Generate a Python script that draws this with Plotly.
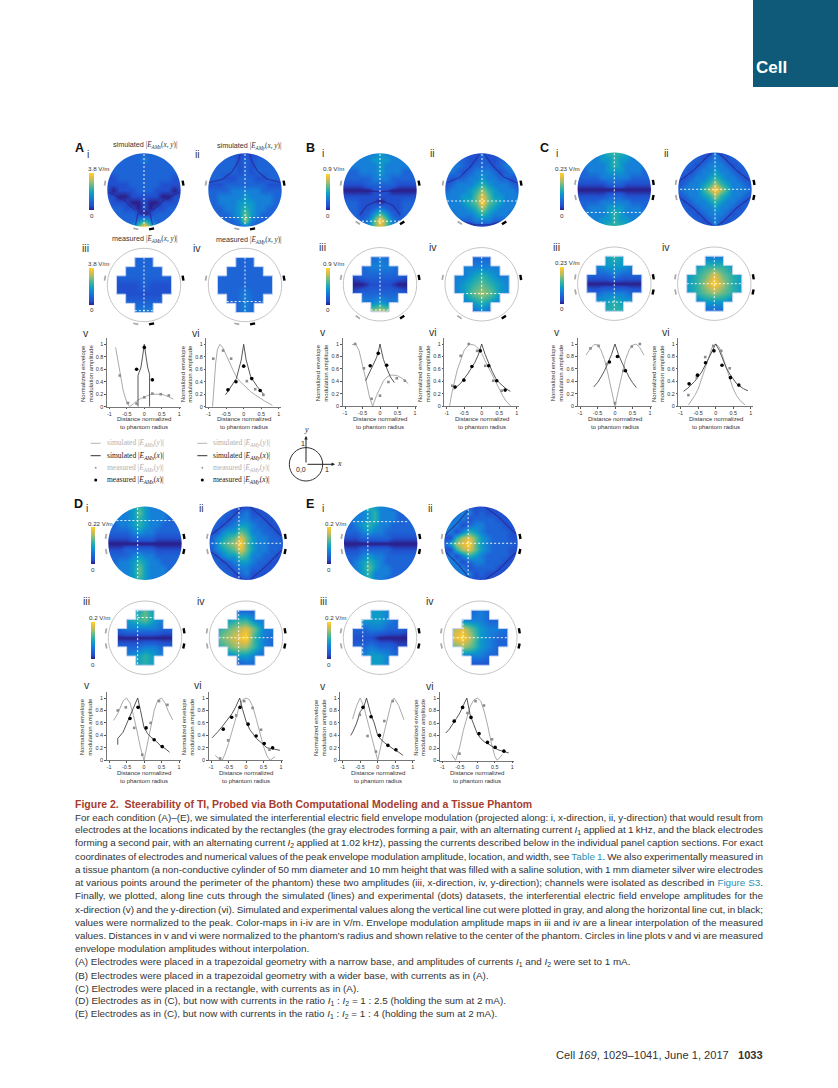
import plotly.graph_objects as go

W, H = 838, 1088

# ---------- colour scale (0..9 level steps) ----------
LEVEL_COLORS = ["#2c1f8a", "#2150cf", "#1d64d6", "#167fd8", "#0d9bc8", "#2bb0a8",
                "#62ba8c", "#a8bf68", "#e6bc42", "#fcd62a"]

# ---------- simulated maps: rows y=+1..-1, columns x=-1..+1 (levels 0..9) ----------
A_i = [[2,2,2,2,2,2,2,2,2,2,2,2,2],[2,2,2,2,2,2,3,2,2,2,2,2,2],[2,2,2,2,2,2,2,2,2,2,2,2,2],
       [1,2,2,2,2,2,2,2,2,2,2,2,1],[1,1,2,2,2,2,2,2,2,2,2,1,1],[1,1,1,1,2,2,2,2,2,1,1,1,1],
       [1,0,1,1,1,2,2,2,1,1,1,0,1],[1,1,0,0,1,1,1,1,1,0,0,1,1],[2,1,1,1,0,0,1,0,0,1,1,1,2],
       [2,2,2,1,1,0,1,0,1,1,2,2,2],[2,2,2,2,2,1,0,1,2,2,2,2,2],[2,2,2,2,2,3,5,3,2,2,2,2,2],
       [2,2,2,2,3,6,9,6,3,2,2,2,2]]
A_ii = [[1,1,1,1,1,1,1,1,1,1,1,1,1],[2,2,2,2,2,1,2,1,2,2,2,2,2],[2,2,2,2,2,1,2,1,2,2,2,2,2],
        [2,2,2,2,2,1,2,1,2,2,2,2,2],[2,2,2,1,1,2,2,2,1,1,2,2,2],[1,1,1,2,2,2,2,2,2,2,1,1,1],
        [2,2,2,2,3,3,3,3,3,2,2,2,2],[2,2,3,3,3,3,4,3,3,3,3,2,2],[2,2,3,3,3,4,4,4,3,3,3,2,2],
        [2,2,2,3,3,4,5,4,3,3,2,2,2],[2,2,2,2,3,4,6,4,3,2,2,2,2],[2,2,2,2,2,3,7,3,2,2,2,2,2],
        [1,1,1,1,2,2,3,2,2,1,1,1,1]]
B_i = [[3,3,3,3,3,3,4,3,3,3,3,3,3],[3,3,3,3,3,4,4,4,3,3,3,3,3],[3,3,3,3,3,3,4,3,3,3,3,3,3],
       [2,2,2,3,3,3,4,3,3,3,2,2,2],[2,2,2,2,2,3,3,3,2,2,2,2,2],[1,1,1,1,2,2,2,2,2,1,1,1,1],
       [0,0,0,0,0,1,1,1,0,0,0,0,0],[1,1,1,1,1,1,1,1,1,1,1,1,1],[2,2,2,1,1,1,0,1,1,1,2,2,2],
       [2,2,2,1,1,2,3,2,1,1,2,2,2],[2,2,2,1,2,4,6,4,2,1,2,2,2],[2,2,2,2,3,6,9,6,3,2,2,2,2],
       [2,2,2,2,3,6,8,6,3,2,2,2,2]]
B_ii = [[1,1,1,1,1,1,2,1,1,1,1,1,1],[2,2,2,2,1,1,2,1,1,2,2,2,2],[3,3,3,2,1,2,2,2,1,2,3,3,3],
        [3,3,2,1,2,3,3,3,2,1,2,3,3],[2,1,2,2,3,3,4,3,3,2,2,1,2],[1,2,3,3,3,4,5,4,3,3,3,2,1],
        [2,3,3,3,4,5,7,5,4,3,3,3,2],[3,3,3,4,4,6,8,6,4,4,3,3,3],[3,3,3,4,5,6,9,6,5,4,3,3,3],
        [3,3,3,3,4,5,7,5,4,3,3,3,3],[2,2,3,3,3,4,5,4,3,3,3,2,2],[2,2,2,2,2,3,3,3,2,2,2,2,2],
        [1,1,1,1,0,1,1,1,0,1,1,1,1]]
C_i = [[3,3,3,3,4,5,5,5,4,3,3,3,3],[3,3,3,3,4,4,5,4,4,3,3,3,3],[2,3,3,3,3,4,5,4,3,3,3,3,2],
       [2,2,3,3,3,4,4,4,3,3,3,2,2],[2,2,2,2,3,3,3,3,3,2,2,2,2],[1,1,1,1,1,2,2,2,1,1,1,1,1],
       [0,0,0,0,0,0,0,0,0,0,0,0,0],[1,1,1,1,1,2,2,2,1,1,1,1,1],[2,2,2,2,3,3,3,3,3,2,2,2,2],
       [2,2,3,3,3,4,4,4,3,3,3,2,2],[2,3,3,3,3,4,5,4,3,3,3,3,2],[3,3,3,3,4,4,5,4,4,3,3,3,3],
       [3,3,3,3,4,5,5,5,4,3,3,3,3]]
C_ii = [[2,2,2,2,1,1,3,1,1,2,2,2,2],[2,2,2,2,1,2,3,2,1,2,2,2,2],[2,2,2,1,2,3,3,3,2,1,2,2,2],
        [2,2,1,2,3,3,4,3,3,2,1,2,2],[2,1,2,3,3,4,5,4,3,3,2,1,2],[1,2,3,3,4,5,7,5,4,3,3,2,1],
        [2,3,3,3,5,7,9,7,5,3,3,3,2],[1,2,3,3,4,5,7,5,4,3,3,2,1],[2,1,2,3,3,4,5,4,3,3,2,1,2],
        [2,2,1,2,3,3,4,3,3,2,1,2,2],[2,2,2,1,2,3,3,3,2,1,2,2,2],[2,2,2,2,1,2,3,2,1,2,2,2,2],
        [2,2,2,2,1,1,3,1,1,2,2,2,2]]
D_i = [[3,3,3,4,4,5,4,3,3,2,2,2,2],[3,3,3,3,4,6,4,3,3,3,2,2,2],[2,3,3,3,4,5,4,3,3,3,2,2,2],
       [2,2,3,3,4,5,4,3,3,2,2,2,2],[2,2,2,2,3,4,3,3,2,2,2,2,2],[1,1,1,1,2,2,2,2,1,1,1,1,1],
       [0,0,0,0,0,0,0,0,0,0,0,0,0],[1,1,1,2,2,2,2,2,1,1,1,1,1],[2,2,2,2,3,4,3,3,2,2,2,2,2],
       [2,2,3,3,4,5,4,3,3,2,2,2,2],[2,3,3,3,4,6,4,3,3,3,2,2,2],[3,3,3,3,4,6,4,3,3,3,2,2,2],
       [3,3,3,4,4,5,4,3,3,2,2,2,2]]
D_ii = [[2,2,2,2,1,1,1,1,1,2,2,2,2],[2,2,2,2,1,2,3,1,1,1,2,2,2],[2,2,2,1,2,3,3,2,2,1,1,2,2],
        [2,2,1,2,3,4,4,3,2,2,1,1,2],[2,1,3,4,4,6,5,3,3,2,2,1,1],[1,3,4,5,6,8,6,4,3,3,2,2,1],
        [2,3,5,6,7,9,6,4,3,3,2,2,2],[1,3,4,5,6,8,6,4,3,3,2,2,1],[2,1,3,4,4,6,5,3,3,2,2,1,1],
        [2,2,1,2,3,4,4,3,2,2,1,1,2],[2,2,2,1,2,3,3,2,2,1,1,2,2],[2,2,2,2,1,2,3,1,1,1,2,2,2],
        [2,2,2,2,1,1,1,1,1,2,2,2,2]]
E_i = [[2,2,3,4,5,4,3,3,2,2,2,2,2],[3,3,3,3,4,5,3,3,3,2,2,2,2],[3,3,3,3,4,5,3,3,3,2,2,2,2],
       [2,2,3,4,5,4,3,3,2,2,2,2,2],[2,2,2,3,4,3,3,2,2,2,2,2,2],[1,1,1,2,2,2,2,2,1,1,1,1,1],
       [0,0,0,0,0,0,0,0,0,0,0,0,0],[1,1,1,2,2,2,2,2,1,1,1,1,1],[2,2,2,3,4,3,3,2,2,2,2,2,2],
       [2,2,3,4,5,4,3,2,2,2,2,2,2],[2,3,3,4,6,4,3,3,2,2,2,2,2],[3,3,3,4,5,3,3,3,2,2,2,2,2],
       [2,3,3,4,5,3,3,2,2,2,2,2,2]]
E_ii = [[2,2,2,2,2,1,1,1,1,1,2,2,2],[2,2,2,3,3,1,2,1,1,1,1,2,2],[3,2,3,3,1,2,2,2,2,1,1,2,2],
        [3,3,3,1,2,3,3,2,2,2,1,1,2],[3,3,1,3,5,4,3,2,2,2,2,1,1],[1,1,5,7,8,6,4,3,2,2,2,1,1],
        [2,4,7,8,9,6,4,3,2,2,2,2,1],[1,1,5,7,8,6,4,3,2,2,2,1,1],[3,3,1,3,5,4,3,2,2,2,2,1,1],
        [3,3,3,1,2,3,3,2,2,2,1,1,2],[3,2,3,3,1,2,2,2,2,1,1,2,2],[2,2,2,3,3,1,2,1,1,1,1,2,2],
        [2,2,2,2,2,1,1,1,1,1,2,2,2]]

# ---------- measured maps: rows y=+.75..-.75, columns x=-.75..+.75 (levels 0..9) ----------
A_iii = [[2,2,2,2,2,2,2],[2,2,2,2,2,2,2],[2,2,2,2,2,2,2],[1,1,1,2,1,1,1],[1,1,1,1,1,1,1],[2,2,2,2,2,2,2],[2,2,3,3,3,2,2]]
A_iv  = [[1,1,2,2,2,1,1],[2,2,2,2,2,2,2],[2,2,2,2,2,2,2],[2,2,2,2,2,2,2],[2,2,2,3,2,2,2],[2,2,2,3,2,2,2],[1,1,2,3,2,1,1]]
B_iii = [[2,2,2,3,2,2,2],[2,2,3,3,3,2,2],[1,2,2,2,2,2,1],[0,0,1,1,1,0,0],[1,2,2,2,2,2,1],[3,3,3,4,3,3,3],[5,6,7,8,7,6,5]]
B_iv  = [[2,2,2,2,2,2,2],[2,3,3,3,3,3,2],[3,3,4,5,4,3,3],[3,4,5,6,5,4,3],[3,4,6,7,6,4,3],[2,3,4,5,4,3,2],[2,2,2,3,2,2,2]]
C_iii = [[4,4,4,5,4,4,4],[3,3,4,4,4,3,3],[2,2,2,3,2,2,2],[0,0,0,0,0,0,0],[2,2,3,3,3,2,2],[3,4,4,5,4,4,3],[4,4,5,5,5,4,4]]
C_iv  = [[2,2,3,3,3,2,2],[3,4,5,5,5,4,3],[4,5,6,8,6,5,4],[4,5,7,9,7,5,4],[4,5,6,7,6,5,4],[2,3,4,4,4,3,2],[1,2,2,2,2,2,1]]
D_iii = [[3,3,4,6,4,3,3],[3,4,5,6,4,3,3],[2,3,3,3,3,2,2],[0,0,0,0,0,0,0],[2,2,2,3,3,2,2],[3,3,4,5,4,3,2],[3,3,4,5,4,3,3]]
D_iv  = [[1,2,2,2,2,2,1],[3,4,5,5,3,3,2],[5,6,7,8,6,3,3],[6,7,8,9,5,3,2],[5,6,7,7,5,3,2],[2,3,4,4,3,2,2],[1,1,1,2,2,1,1]]
E_iii = [[3,3,4,4,3,3,2],[3,4,4,4,3,2,2],[2,2,3,3,2,2,1],[1,1,1,0,0,0,0],[2,2,3,2,2,1,1],[2,3,4,4,3,2,2],[3,3,4,4,3,2,2]]
E_iv  = [[1,1,2,3,2,2,1],[3,3,3,3,2,2,2],[7,8,6,4,3,3,2],[8,9,7,4,3,2,2],[6,7,6,4,3,2,2],[2,3,3,3,2,2,1],[1,1,1,1,1,1,1]]

# ---------- nodal (dark) curves of the simulated maps ----------
A_i_nx = [-.99,-.56,-.25,None,.99,.56,.25,None,-.23,-.17,0,.17,.23]
A_i_ny = [-.05,-.27,-.55,None,-.05,-.27,-.55,None,-.95,-.65,-.55,-.65,-.95]
A_ii_nx = [-1,-.6,-.35,-.2,-.12,None,1,.6,.35,.2,.12]
A_ii_ny = [.2,.3,.5,.75,1,None,.2,.3,.5,.75,1]
B_i_nx = [-.55,-.35,0,.35,.55,None,-1,-.4,0,.4,1]
B_i_ny = [-.68,-.42,-.27,-.42,-.68,None,.02,-.01,-.05,-.01,.02]
B_ii_nx = [-.95,-.6,-.3,-.05,None,.95,.6,.3,.05,None,-.55,-.2,.2,.55]
B_ii_ny = [.2,.35,.65,1,None,.2,.35,.65,1,None,-.85,-.95,-.95,-.85]
C_i_nx = [-1,0,1]
C_i_ny = [0,0,0]
C_ii_nx = [-1,-.6,-.2,-.05,None,1,.6,.2,.05,None,-1,-.6,-.2,-.05,None,1,.6,.2,.05]
C_ii_ny = [.2,.5,.9,1,None,.2,.5,.9,1,None,-.2,-.5,-.9,-1,None,-.2,-.5,-.9,-1]
D_i_nx = [-1,0,1]
D_i_ny = [0,0,0]
D_ii_nx = [-1,-.55,-.12,None,.1,.5,.95,None,-1,-.55,-.12,None,.1,.5,.95]
D_ii_ny = [.2,.55,.98,None,1,.65,.2,None,-.2,-.55,-.98,None,-1,-.65,-.2]
E_i_nx = [-1,0,1]
E_i_ny = [0,0,0]
E_ii_nx = [-1,-.6,-.3,None,.1,.5,.95,None,-1,-.6,-.3,None,.1,.5,.95]
E_ii_ny = [.2,.6,.97,None,1,.7,.25,None,-.2,-.6,-.97,None,-1,-.7,-.25]

# ---------- electrode angles (degrees) ----------
A_gray, A_black = [170, 258], [10, 281]
B_gray, B_black = [170, 236], [10, 304]
C_gray, C_black = [170, 192], [10, 348]

# ---------- line plots ----------
A_v_gx = [-.82,-.7,-.6,-.5,-.45,-.42,-.3,-.2,-.1,0,.1,.2,.3,.4,.5,.6,.7,.83]
A_v_gy = [.95,.55,.25,.07,.02,0,.05,.1,.13,.16,.18,.2,.2,.2,.2,.18,.16,.12]
A_v_bx = [-.18,-.18,-.15,-.1,-.05,0,.05,.1,.15,.15]
A_v_by = [0,.5,.55,.62,.8,1,.8,.62,.52,0]
A_v_mgx = [-.7,-.47,-.22,0,.23,.47,.7]
A_v_mgy = [.5,.06,.05,.15,.21,.2,.18]
A_v_mbx = [-.22,0,.23]
A_v_mby = [.6,.95,.43]

A_vi_gx = [-.89,-.85,-.8,-.75,-.68,-.6,-.5,-.4,-.3,-.2,-.1,0,.1,.2,.3,.4,.5,.6,.7,.82]
A_vi_gy = [0,.35,.7,.92,1,.95,.82,.7,.58,.47,.4,.35,.29,.24,.2,.16,.13,.09,.06,.02]
A_vi_bx = [-.52,-.21,-.07,0,.07,.2,.39,.58]
A_vi_by = [.19,.45,.75,1,.75,.48,.32,.19]
A_vi_mgx = [-.87,-.59,-.36,.09,.33,.56]
A_vi_mgy = [.77,.9,.77,.41,.28,.19]
A_vi_mbx = [-.45,-.22,0,.23,.47]
A_vi_mby = [.27,.4,.65,.45,.26]

B_v_gx = [-.8,-.7,-.6,-.5,-.4,-.3,-.21,-.1,0,.1,.2,.3,.4,.5,.6,.7,.81]
B_v_gy = [.99,1,.9,.68,.42,.15,0,.17,.3,.41,.47,.5,.5,.49,.46,.42,.36]
B_v_bx = [-.41,-.3,-.2,-.1,-.05,0,.05,.1,.2,.3,.41]
B_v_by = [.41,.54,.66,.78,.87,1,.87,.75,.6,.47,.38]
B_v_mgx = [-.71,-.46,-.24,0,.24,.48,.71]
B_v_mgy = [1,.61,.12,.17,.39,.45,.41]
B_v_mbx = [-.28,-.05,.19]
B_v_mby = [.65,.85,.66]

B_vi_gx = [-.92,-.85,-.7,-.5,-.35,-.2,-.1,0,.1,.2,.3,.4,.5,.6,.7,.83]
B_vi_gy = [0,.22,.58,.9,1,.98,.93,.85,.73,.62,.5,.38,.27,.17,.08,.01]
B_vi_bx = [-.8,-.6,-.4,-.2,-.1,0,.1,.2,.3,.4,.5,.6,.7,.82]
B_vi_by = [.27,.37,.52,.7,.82,1,.83,.68,.56,.45,.38,.33,.28,.24]
B_vi_mgx = [-.84,-.6,-.37,-.13,.1,.33,.57]
B_vi_mgy = [.33,.81,1,.89,.65,.41,.25]
B_vi_mbx = [-.76,-.51,-.28,-.04,.2,.43,.67]
B_vi_mby = [.31,.42,.64,.89,.65,.41,.26]

C_v_gx = [-.83,-.7,-.6,-.5,-.4,-.3,-.2,-.1,0,.1,.2,.3,.4,.5,.6,.7,.83]
C_v_gy = [.82,.93,.99,.99,.9,.75,.52,.26,0,.26,.52,.75,.9,.98,1,.95,.82]
C_v_bx = [-.61,-.5,-.4,-.3,-.2,-.1,0,.1,.2,.3,.4,.5,.61]
C_v_by = [.31,.38,.47,.57,.7,.83,1,.83,.7,.57,.47,.38,.3]
C_v_mgx = [-.7,-.47,-.23,0,.24,.48,.71]
C_v_mgy = [.93,.97,.68,.05,.57,.96,1]
C_v_mbx = [-.16,.07,.3]
C_v_mby = [.71,.8,.57]

C_vi_gx = [-.78,-.7,-.6,-.5,-.4,-.3,-.2,-.1,0,.1,.2,.3,.4,.5,.6,.7,.84]
C_vi_gy = [.02,.08,.17,.28,.45,.63,.8,.95,1,.95,.8,.62,.44,.28,.17,.09,.02]
C_vi_bx = [-.92,-.8,-.6,-.4,-.2,-.1,0,.1,.2,.3,.4,.5,.6,.8,.92]
C_vi_by = [.24,.29,.4,.55,.77,.9,1,.9,.75,.62,.52,.43,.36,.28,.25]
C_vi_mgx = [-.78,-.54,-.3,-.07,.16,.4]
C_vi_mgy = [.18,.46,.79,.97,.89,.61]
C_vi_mbx = [-.76,-.52,-.29,-.05,.18,.42,.66]
C_vi_mby = [.36,.5,.7,.89,.66,.46,.34]

D_v_gx = [-.87,-.75,-.6,-.5,-.4,-.3,-.2,-.1,0,.1,.2,.3,.4,.5,.6,.7,.82]
D_v_gy = [.64,.75,.95,1,.92,.72,.47,.2,0,.27,.55,.82,.97,1,.92,.78,.65]
D_v_bx = [-.75,-.75,-.6,-.5,-.4,-.3,-.18,-.1,0,.1,.2,.3,.4,.5,.6,.73]
D_v_by = [.25,.35,.45,.58,.7,.85,1,.8,.53,.43,.37,.33,.27,.22,.19,.13]
D_v_mgx = [-.75,-.52,-.28,-.05,.19,.43,.67]
D_v_mgy = [.8,.85,.52,.09,.6,.95,.89]
D_v_mbx = [-.4,-.17,.06,.29,.52]
D_v_mby = [.67,.85,.52,.33,.22]

D_vi_gx = [-.88,-.78,-.68,-.6,-.5,-.4,-.3,-.2,-.1,0,.1,.2,.3,.4,.5,.6,.69,.83]
D_vi_gy = [.08,.03,0,.1,.27,.47,.68,.85,.97,1,.97,.85,.65,.43,.22,.07,0,.06]
D_vi_bx = [-.97,-.8,-.6,-.4,-.3,-.18,-.1,0,.1,.2,.3,.4,.5,.6,.8,.97]
D_vi_by = [.36,.46,.6,.75,.85,1,.82,.63,.5,.42,.35,.3,.25,.2,.18,.16]
D_vi_mgx = [-.74,-.51,-.28,-.05,.19,.43,.67]
D_vi_mgy = [.03,.32,.72,.95,.84,.49,.17]
D_vi_mbx = [-.65,-.41,-.17,.06,.29,.52,.76]
D_vi_mby = [.5,.69,.85,.58,.39,.27,.2]

E_v_gx = [-.72,-.6,-.5,-.4,-.3,-.2,-.1,0,.1,.2,.3,.4,.47,.6,.75]
E_v_gy = [.66,.88,1,.87,.65,.42,.2,0,.25,.5,.75,.95,1,.88,.65]
E_v_bx = [-.77,-.7,-.6,-.5,-.4,-.32,-.2,-.1,0,.1,.2,.3,.4,.5,.6,.72]
E_v_by = [.4,.47,.6,.78,.85,1,.75,.6,.4,.33,.28,.24,.19,.16,.13,.08]
E_v_mgx = [-.51,-.29,-.05,.19,.43]
E_v_mgy = [.73,.39,.14,.63,.95]
E_v_mbx = [-.42,-.19,.05,.29,.52]
E_v_mby = [.85,.7,.4,.24,.17]

E_vi_gx = [-.73,-.62,-.5,-.4,-.3,-.2,-.1,0,.1,.2,.3,.4,.5,.57,.72]
E_vi_gy = [.1,0,.22,.48,.68,.87,.97,1,.95,.78,.55,.28,.07,0,.1]
E_vi_bx = [-.9,-.8,-.6,-.5,-.4,-.3,-.2,-.1,0,.1,.2,.3,.4,.5,.6,.8,.9]
E_vi_by = [.44,.5,.67,.76,.88,1,.72,.57,.43,.35,.3,.27,.23,.2,.17,.14,.12]
E_vi_mgx = [-.51,-.28,-.05,.19,.42]
E_vi_mgy = [.11,.76,.95,.88,.34]
E_vi_mbx = [-.66,-.42,-.18,.05,.29,.51,.76]
E_vi_mby = [.63,.85,.69,.43,.29,.21,.15]

X_TICKS = [-1, -.5, 0, .5, 1]
X_TICK_TEXT = ["-1", "-0.5", "0", "0.5", "1"]
Y_TICKS = [0, .2, .4, .6, .8, 1]
Y_TICK_TEXT = ["0", "0.2", "0.4", "0.6", "0.8", "1"]

CAPTION = [
 "For each condition (A)–(E), we simulated the interferential electric field envelope modulation (projected along: i, x-direction, ii, y-direction) that would result from",
 "electrodes at the locations indicated by the rectangles (the gray electrodes forming a pair, with an alternating current <i>I</i><sub>1</sub> applied at 1 kHz, and the black electrodes",
 "forming a second pair, with an alternating current <i>I</i><sub>2</sub> applied at 1.02 kHz), passing the currents described below in the individual panel caption sections. For exact",
 "coordinates of electrodes and numerical values of the peak envelope modulation amplitude, location, and width, see <span style=\"color:#2b8fb3\">Table 1</span>. We also experimentally measured in",
 "a tissue phantom (a non-conductive cylinder of 50 mm diameter and 10 mm height that was filled with a saline solution, with 1 mm diameter silver wire electrodes",
 "at various points around the perimeter of the phantom) these two amplitudes (iii, x-direction, iv, y-direction); channels were isolated as described in <span style=\"color:#2b8fb3\">Figure S3</span>.",
 "Finally, we plotted, along line cuts through the simulated (lines) and experimental (dots) datasets, the interferential electric field envelope amplitudes for the",
 "x-direction (v) and the y-direction (vi). Simulated and experimental values along the vertical line cut were plotted in gray, and along the horizontal line cut, in black;",
 "values were normalized to the peak. Color-maps in i-iv are in V/m. Envelope modulation amplitude maps in iii and iv are a linear interpolation of the measured",
 "values. Distances in v and vi were normalized to the phantom’s radius and shown relative to the center of the phantom. Circles in line plots v and vi are measured",
 "envelope modulation amplitudes without interpolation.",
 "(A) Electrodes were placed in a trapezoidal geometry with a narrow base, and amplitudes of currents <i>I</i><sub>1</sub> and <i>I</i><sub>2</sub> were set to 1 mA.",
 "(B) Electrodes were placed in a trapezoidal geometry with a wider base, with currents as in (A).",
 "(C) Electrodes were placed in a rectangle, with currents as in (A).",
 "(D) Electrodes as in (C), but now with currents in the ratio <i>I</i><sub>1</sub> : <i>I</i><sub>2</sub> = 1 : 2.5 (holding the sum at 2 mA).",
 "(E) Electrodes as in (C), but now with currents in the ratio <i>I</i><sub>1</sub> : <i>I</i><sub>2</sub> = 1 : 4 (holding the sum at 2 mA).",
]
CAPTION_Y = [817, 830, 843.3, 856.5, 869.7, 882.7, 895.7, 909, 922, 935, 948.5, 962, 975, 988, 1001, 1014]

SANS = "Liberation Sans, Arial, sans-serif"
fig = go.Figure()
shapes, annos = [], []
layout_axes = {}
axis_n = 0
SCALE = [[i / 9, c] for i, c in enumerate(LEVEL_COLORS)]


def px(x): return x / W
def py(y): return 1 - y / H


def text(x, y, s, size=6, color="#333", anchor="center", font=SANS, angle=0, valign="middle"):
    annos.append(dict(x=px(x), y=py(y), xref="paper", yref="paper", text=s, showarrow=False,
                      xanchor=anchor, yanchor=valign, align=anchor if anchor != "center" else "center",
                      font=dict(size=size, color=color, family=font), textangle=angle,
                      borderpad=0, borderwidth=0))


def new_axes():
    global axis_n
    axis_n += 1
    return axis_n


def bez_circle(r):
    k = 0.5523 * r
    return (f"M {r} 0 C {r} {k} {k} {r} 0 {r} C {-k} {r} {-r} {k} {-r} 0 "
            f"C {-r} {-k} {-k} {-r} 0 {-r} C {k} {-r} {r} {-k} {r} 0 Z")


CROSS = [(-.25,.75),(.25,.75),(.25,.5),(.5,.5),(.5,.25),(.75,.25),(.75,-.25),(.5,-.25),(.5,-.5),(.25,-.5),
         (.25,-.75),(-.25,-.75),(-.25,-.5),(-.5,-.5),(-.5,-.25),(-.75,-.25),(-.75,.25),(-.5,.25),(-.5,.5),(-.25,.5)]
CROSS_PATH = "M " + " L ".join(f"{a} {b}" for a, b in CROSS) + " Z"

R = 36.7
SPAN = 1.35
SIM_NODES = [1 - i / 6 for i in range(13)]
SIM_X = SIM_NODES[::-1]
MEAS_NODES = [.75 - i * .25 for i in range(7)]
MEAS_X = MEAS_NODES[::-1]


def electrode(xr, yr, deg, color, width):
    import math
    t = math.radians(deg)
    cx, cy = 1.08 * math.cos(t), 1.08 * math.sin(t)
    dx, dy = -0.07 * math.sin(t), 0.07 * math.cos(t)
    shapes.append(dict(type="line", xref=xr, yref=yr, layer="above", x0=cx - dx, y0=cy - dy, x1=cx + dx, y1=cy + dy,
                       line=dict(color=color, width=width)))


def heat(z, cx, cy, measured, vline, hline, gray, black, nodal=None, bar=None):
    n = new_axes()
    xn, yn = f"xaxis{n}", f"yaxis{n}"
    xr, yr = f"x{n}", f"y{n}"
    layout_axes[xn] = dict(domain=[px(cx - SPAN * R), px(cx + SPAN * R)], range=[-SPAN, SPAN], visible=False, anchor=yr, fixedrange=True)
    layout_axes[yn] = dict(domain=[py(cy + SPAN * R), py(cy - SPAN * R)], range=[-SPAN, SPAN], visible=False, anchor=xr, fixedrange=True)
    ys = MEAS_NODES if measured else SIM_NODES
    xs = MEAS_X if measured else SIM_X
    tr = dict(z=z, x=xs, y=ys, zmin=0, zmax=9, colorscale=SCALE, zsmooth="best", showscale=False, xaxis=xr, yaxis=yr)
    if bar:
        tr.update(showscale=True, colorbar=dict(x=px(bar[0]), xanchor="left", y=py(bar[1]), yanchor="top",
                                                 len=bar[2] - bar[1], lenmode="pixels", thickness=bar[3], thicknessmode="pixels",
                                                 outlinewidth=0, showticklabels=False, ticks="", xpad=0, ypad=0))
    fig.add_trace(go.Heatmap(**tr))
    if nodal:
        fig.add_trace(go.Scatter(x=nodal[0], y=nodal[1], mode="lines", xaxis=xr, yaxis=yr, showlegend=False,
                                 line=dict(color="#2a2390", width=1.1), opacity=.75, hoverinfo="skip"))
    if vline:
        fig.add_trace(go.Scatter(x=[vline[0], vline[0]], y=[vline[1], vline[2]], mode="lines", xaxis=xr, yaxis=yr, showlegend=False,
                                 line=dict(color="rgba(255,255,255,.9)", width=1, dash="2px,2px"), hoverinfo="skip"))
    if hline:
        fig.add_trace(go.Scatter(x=[hline[1], hline[2]], y=[hline[0], hline[0]], mode="lines", xaxis=xr, yaxis=yr, showlegend=False,
                                 line=dict(color="rgba(255,255,255,.9)", width=1, dash="2px,2px"), hoverinfo="skip"))
    if measured:
        o = 1.0
        shapes.append(dict(type="path", xref=xr, yref=yr, layer="above", line=dict(width=0), fillcolor="white",
                           path=f"M {-o} {-o} L {o} {-o} L {o} {o} L {-o} {o} Z {CROSS_PATH}"))
        shapes.append(dict(type="path", xref=xr, yref=yr, layer="above", line=dict(width=1, color="#c3d3f2"), path=CROSS_PATH))
        shapes.append(dict(type="path", xref=xr, yref=yr, layer="above", line=dict(width=1, color="#c4c4c4"), path=bez_circle(1)))
    else:
        o = 1.2
        shapes.append(dict(type="path", xref=xr, yref=yr, layer="above", line=dict(width=0), fillcolor="white",
                           path=f"M {-o} {-o} L {o} {-o} L {o} {o} L {-o} {o} Z {bez_circle(1)}"))
    for d in gray:
        electrode(xr, yr, d, "#a8a8a8", 1.7)
    for d in black:
        electrode(xr, yr, d, "#000000", 2.4)


def plot(x_m1, y0, y1, gx, gy, bx, by, mgx, mgy, mbx, mby):
    """x_m1: pixel of x=-1; y0/y1: pixels of y=0 and y=1."""
    n = new_axes()
    xr, yr = f"x{n}", f"y{n}"
    ux = 35.0
    uy = y0 - y1
    layout_axes[f"xaxis{n}"] = dict(domain=[px(x_m1 - .07 * ux), px(x_m1 + 2.06 * ux)], range=[-1.07, 1.06], anchor=yr,
                                    tickvals=X_TICKS, ticktext=X_TICK_TEXT, tickfont=dict(size=5.4, color="#333", family=SANS),
                                    ticks="outside", ticklen=1.5, tickwidth=.7, tickcolor="#555", showline=True, linecolor="#777", linewidth=.8,
                                    showgrid=False, zeroline=False, fixedrange=True)
    layout_axes[f"yaxis{n}"] = dict(domain=[py(y0), py(y1 - .1 * uy)], range=[0, 1.1], anchor=xr,
                                    tickvals=Y_TICKS, ticktext=Y_TICK_TEXT, tickfont=dict(size=5.4, color="#333", family=SANS),
                                    ticks="outside", ticklen=1.5, tickwidth=.7, tickcolor="#555", showline=True, linecolor="#777", linewidth=.8,
                                    showgrid=False, zeroline=False, fixedrange=True)
    fig.add_trace(go.Scatter(x=gx, y=gy, mode="lines", xaxis=xr, yaxis=yr, showlegend=False, line=dict(color="#aaaaaa", width=1), cliponaxis=False))
    fig.add_trace(go.Scatter(x=bx, y=by, mode="lines", xaxis=xr, yaxis=yr, showlegend=False, line=dict(color="#444444", width=.9), cliponaxis=False))
    fig.add_trace(go.Scatter(x=mgx, y=mgy, mode="markers", xaxis=xr, yaxis=yr, showlegend=False, marker=dict(color="#8c8c8c", size=2.6, symbol="square"), cliponaxis=False))
    fig.add_trace(go.Scatter(x=mbx, y=mby, mode="markers", xaxis=xr, yaxis=yr, showlegend=False, marker=dict(color="#000000", size=3.6), cliponaxis=False))
    xc = x_m1 + ux
    text(xc, y0 + 12.5, "Distance normalized", 6)
    text(xc, y0 + 20.5, "to phantom radius", 6)
    text(x_m1 - 22.5, (y0 + y1) / 2 - 2, "Normalized envelope<br>modulation amplitude", 6, angle=-90)


# ---------- header tab ----------
shapes.append(dict(type="rect", xref="paper", yref="paper", x0=px(753), x1=px(838), y0=py(0), y1=py(87), fillcolor="#0e5a78", line=dict(width=0), layer="below"))
text(771, 67.5, "<b>Cell</b>", 17, "white")

# ---------- maps ----------
heat(A_i, 144, 190, False, (0, .98, -.98), None, A_gray, A_black, (A_i_nx, A_i_ny), (89.3, 173.3, 210, 4.7))
heat(A_ii, 245, 190, False, (0, .98, -.98), (-.75, -.65, .7), A_gray, A_black, (A_ii_nx, A_ii_ny))
heat(A_iii, 144, 285, True, (0, .75, -.75), (-.7, -.25, .25), A_gray, A_black, None, (89.3, 268.3, 305, 4.7))
heat(A_iv, 245, 285, True, (0, .75, -.75), (-.45, -.5, .5), A_gray, A_black)
heat(B_i, 380, 190, False, (0, .98, -.98), (-.85, -.6, .6), B_gray, B_black, (B_i_nx, B_i_ny), (326, 174, 210, 4))
heat(B_ii, 482, 190, False, (0, .98, -.98), (-.3, -.95, .95), B_gray, B_black, (B_ii_nx, B_ii_ny))
heat(B_iii, 380, 284.3, True, (0, .75, -.75), (-.7, -.25, .25), B_gray, B_black, None, (326, 268.3, 305, 4))
heat(B_iv, 481.7, 284.3, True, (0, .75, -.75), (-.25, -.75, .75), B_gray, B_black)
heat(C_i, 614.3, 189.3, False, (0, .98, -.98), (-.63, -.75, .75), C_gray, C_black, (C_i_nx, C_i_ny), (560, 173, 210, 4))
heat(C_ii, 715, 189.3, False, (0, .98, -.98), (0, -.95, .95), C_gray, C_black, (C_ii_nx, C_ii_ny))
heat(C_iii, 614.3, 283.7, True, (0, .75, -.75), (-.5, -.5, .5), C_gray, C_black, None, (560, 267, 304, 4))
heat(C_iv, 714.3, 283.7, True, (0, .75, -.75), (0, -.75, .75), C_gray, C_black)
heat(D_i, 145, 543.3, False, (-.2, .96, -.96), (.62, -.78, .78), C_gray, C_black, (D_i_nx, D_i_ny), (91, 527, 564, 4))
heat(D_ii, 246.3, 543.3, False, (-.2, .96, -.96), (0, -.95, .95), C_gray, C_black, (D_ii_nx, D_ii_ny))
heat(D_iii, 145, 637.7, True, (-.2, .75, -.75), (.55, -.2, .32), C_gray, C_black, None, (91, 622, 659, 4))
heat(D_iv, 246, 637.7, True, (-.2, .75, -.75), (0, -.75, .75), C_gray, C_black)
heat(E_i, 380.7, 543.3, False, (-.35, .93, -.93), (.59, -.75, .75), C_gray, C_black, (E_i_nx, E_i_ny), (327, 527, 564, 4))
heat(E_ii, 481, 543.3, False, (-.35, .93, -.93), (0, -.95, .95), C_gray, C_black, (E_ii_nx, E_ii_ny))
heat(E_iii, 380, 637.7, True, (-.47, .5, -.5), (.51, -.47, .5), C_gray, C_black, None, (327, 622, 659, 4))
heat(E_iv, 480.3, 637.7, True, (-.47, .5, -.5), (0, -.75, .75), C_gray, C_black)

# ---------- line plots ----------
plot(109.3, 406.7, 344.3, A_v_gx, A_v_gy, A_v_bx, A_v_by, A_v_mgx, A_v_mgy, A_v_mbx, A_v_mby)
plot(208.7, 406.7, 344.3, A_vi_gx, A_vi_gy, A_vi_bx, A_vi_by, A_vi_mgx, A_vi_mgy, A_vi_mbx, A_vi_mby)
plot(345, 406.3, 344, B_v_gx, B_v_gy, B_v_bx, B_v_by, B_v_mgx, B_v_mgy, B_v_mbx, B_v_mby)
plot(446.7, 406.3, 344, B_vi_gx, B_vi_gy, B_vi_bx, B_vi_by, B_vi_mgx, B_vi_mgy, B_vi_mbx, B_vi_mby)
plot(580, 406.3, 344, C_v_gx, C_v_gy, C_v_bx, C_v_by, C_v_mgx, C_v_mgy, C_v_mbx, C_v_mby)
plot(680.7, 406.3, 344, C_vi_gx, C_vi_gy, C_vi_bx, C_vi_by, C_vi_mgx, C_vi_mgy, C_vi_mbx, C_vi_mby)
plot(109, 760.3, 698, D_v_gx, D_v_gy, D_v_bx, D_v_by, D_v_mgx, D_v_mgy, D_v_mbx, D_v_mby)
plot(211, 760.3, 698, D_vi_gx, D_vi_gy, D_vi_bx, D_vi_by, D_vi_mgx, D_vi_mgy, D_vi_mbx, D_vi_mby)
plot(342.7, 760.3, 698, E_v_gx, E_v_gy, E_v_bx, E_v_by, E_v_mgx, E_v_mgy, E_v_mbx, E_v_mby)
plot(442.3, 760.5, 698, E_vi_gx, E_vi_gy, E_vi_bx, E_vi_by, E_vi_mgx, E_vi_mgy, E_vi_mbx, E_vi_mby)

# ---------- colourbar captions ----------
for x, y, s in [(98, 169, "3.8 V/m"), (98, 263, "3.8 V/m"), (333.5, 169, "0.9 V/m"), (333.5, 263, "0.9 V/m"),
                (567.7, 168.7, "0.23 V/m"), (567.7, 262.5, "0.23 V/m"), (100, 523, "0.22 V/m"), (99, 617, "0.2 V/m"),
                (335, 523, "0.2 V/m"), (335, 617.7, "0.2 V/m")]:
    text(x, y, s, 6.2)
for x, y in [(91.7, 215.7), (91.7, 309.5), (327.7, 215.7), (327.7, 309.5), (562, 215), (562, 309),
             (93, 569), (93, 664), (329, 569.5), (329, 664.5)]:
    text(x, y, "0", 6.2)

# ---------- panel letters and numerals ----------
for x, y, s in [(79, 148, "A"), (310, 147.7, "B"), (544.3, 147.7, "C"), (78.3, 504.3, "D"), (310, 504.3, "E")]:
    text(x, y, f"<b>{s}</b>", 12.5, "#111")
NUM = [("i", 87.7, 154), ("ii", 197, 154), ("iii", 85.7, 247.7), ("iv", 197, 248.3), ("v", 85.7, 332.7), ("vi", 196, 332.7),
       ("i", 322.7, 153.3), ("ii", 432.7, 153.3), ("iii", 322.7, 247.3), ("iv", 432.7, 247.3), ("v", 322.7, 331.7), ("vi", 432.7, 331.7),
       ("i", 556.7, 153.3), ("ii", 666, 153.3), ("iii", 556.7, 247.3), ("iv", 666, 247.3), ("v", 556.7, 331.7), ("vi", 666, 331.7),
       ("i", 86.7, 507.7), ("ii", 201, 507.7), ("iii", 86.7, 601), ("iv", 201, 601), ("v", 86.7, 685), ("vi", 197.7, 685),
       ("i", 323.3, 507.7), ("ii", 430, 507.7), ("iii", 323.3, 601), ("iv", 430, 601), ("v", 323.3, 686), ("vi", 430, 686)]
for s, x, y in NUM:
    text(x, y, s, 10.5, "#333")

# ---------- panel A titles ----------
SERIF = "<span style=\"font-family:'Liberation Serif'\">"
def E(sub, arg):
    return f"{SERIF}|<i>E<sub>{sub}</sub></i>(<i>{arg}</i>)|</span>"
text(145, 145, "simulated " + E("AMx", "x, y"), 7.2)
text(249, 145.7, "simulated " + E("AMy", "x, y"), 7.2)
text(145.3, 239, "measured " + E("AMx", "x, y"), 7.2)
text(249.3, 240, "measured " + E("AMy", "x, y"), 7.2)

# ---------- legend ----------
LEG_Y = [443.3, 455.7, 467.7, 480]
for x_line, x_txt, sub in [(90.7, 106.7, "AMx"), (197.3, 212.7, "AMy")]:
    rows = [("simulated", "y", "#b5b5b5"), ("simulated", "x", "#333333"), ("measured", "y", "#9a9a9a"), ("measured", "x", "#000000")]
    for i, (word, arg, col) in enumerate(rows):
        y = LEG_Y[i]
        if i < 2:
            shapes.append(dict(type="line", xref="paper", yref="paper", x0=px(x_line), x1=px(x_line + 10), y0=py(y), y1=py(y), line=dict(color=col, width=1)))
        else:
            rr = 1.0 if i == 2 else 1.5
            xm = x_line + 5
            shapes.append(dict(type="circle", xref="paper", yref="paper", x0=px(xm - rr), x1=px(xm + rr), y0=py(y + rr), y1=py(y - rr), fillcolor=col, line=dict(width=0)))
        tc = "#b0b0b0" if i % 2 == 0 else "#222"
        text(x_txt, y, f"{SERIF}{word} " + f"|<i>E<sub>{sub}</sub></i>(<i>{arg}</i>)|</span>", 7.5, tc, anchor="left")

# ---------- coordinate inset ----------
shapes.append(dict(type="circle", xref="paper", yref="paper", x0=px(289.3), x1=px(322.7), y0=py(481), y1=py(447.6), line=dict(color="#333", width=1)))
for ax_off, ay_off, x_t, y_t in [(0, 28, 306, 436), (-29, 0, 335, 464.3)]:
    annos.append(dict(x=px(x_t), y=py(y_t), xref="paper", yref="paper", ax=ax_off, ay=ay_off, text="", showarrow=True,
                      arrowhead=2, arrowsize=.7, arrowwidth=1, arrowcolor="#222"))
text(306, 429.5, "<i>y</i>", 8, "#222", font="Liberation Serif")
text(339, 463.5, "<i>x</i>", 8, "#222", font="Liberation Serif")
text(302.7, 443, "1", 7, "#222")
text(327, 469.5, "1", 7, "#222")
text(300.7, 469.5, "0,0", 7, "#222")

# ---------- caption ----------
text(75, 803.7, "<b>Figure 2.  Steerability of TI, Probed via Both Computational Modeling and a Tissue Phantom</b>", 10.5, "#a63d2f", anchor="left")
for line, y in zip(CAPTION, CAPTION_Y):
    text(75, y, line, 9.85, "#333", anchor="left")
text(763, 1055, "Cell <i>169</i>, 1029–1041, June 1, 2017   <b>1033</b>", 11.1, "#333", anchor="right")

fig.update_layout(width=W, height=H, autosize=False, margin=dict(l=0, r=0, t=0, b=0, autoexpand=False),
                  paper_bgcolor="white", plot_bgcolor="rgba(0,0,0,0)", showlegend=False,
                  font=dict(family=SANS), shapes=shapes, annotations=annos, **layout_axes)

POST = """
document.body.style.margin='0';
document.querySelectorAll('.annotation-text').forEach(function(t){
  var s=t.textContent;
  if(s.length>135){var L=t.getComputedTextLength();var n=s.split(' ').length-1;t.style.wordSpacing=((688-L)/n)+'px';}
});
document.querySelectorAll('svg text').forEach(function(t){
  if(!t.textContent.trim()){t.remove();}
});
"""
fig.write_html("out.html", post_script=POST, config={"displayModeBar": False})
